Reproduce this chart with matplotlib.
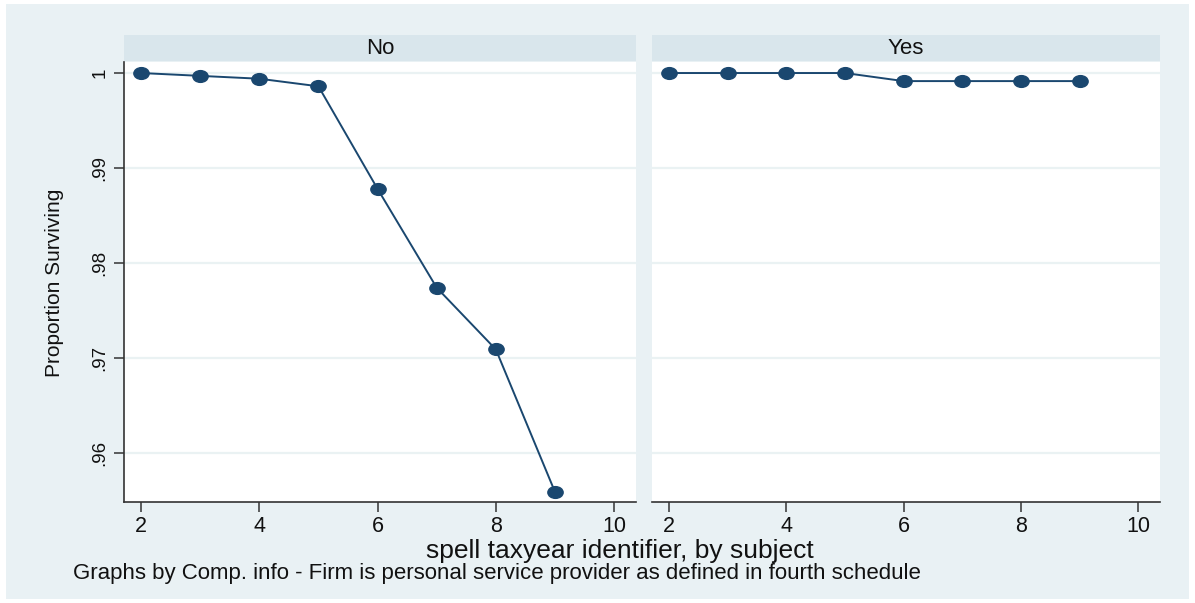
import matplotlib
matplotlib.use("Agg")
import matplotlib.pyplot as plt
from matplotlib.path import Path
from matplotlib.transforms import Affine2D
from matplotlib.patches import Rectangle
import numpy as np

plt.rcParams['font.family'] = ['Liberation Sans', 'DejaVu Sans']

panels = ["No", "Yes"]
x_no = [2, 3, 4, 5, 6, 7, 8, 9]
y_no = [1.0, 0.9997, 0.9994, 0.9986, 0.9878, 0.9774, 0.9709, 0.9559]
x_yes = [2, 3, 4, 5, 6, 7, 8, 9]
y_yes = [1.0, 1.0, 1.0, 1.0, 0.99915, 0.99915, 0.99915, 0.99915]
xticks = [2, 4, 6, 8, 10]
yticks = [0.96, 0.97, 0.98, 0.99, 1.0]
ytick_labels = [".96", ".97", ".98", ".99", "1"]

W, H = 1195, 603
fig = plt.figure(figsize=(W/100, H/100), dpi=100)
fig.patch.set_facecolor('white')
bg = '#e9f1f4'
fig.patches.append(Rectangle((6/W, 4/H), (W-12)/W, (H-8)/H, transform=fig.transFigure,
                             facecolor=bg, edgecolor='none', zorder=-10))

navy = '#1a476f'
ell = Path.unit_circle().transformed(Affine2D().scale(1.3, 1.0))

def px(x0, y0, x1, y1):
    return [x0/W, 1 - y1/H, (x1-x0)/W, (y1-y0)/H]

boxes = [(124, 62, 636, 502), (652, 62, 1160, 502)]
data = [(x_no, y_no), (x_yes, y_yes)]
for i, (b, (xs, ys), name) in enumerate(zip(boxes, data, panels)):
    ax = fig.add_axes(px(*b))
    ax.set_facecolor('white')
    ax.set_xlim(1.712, 10.37)
    ax.set_ylim(0.95484, 1.00116)
    for yt in yticks:
        ax.axhline(yt, color='#eaf2f3', lw=1.6, zorder=0)
    ax.plot(xs, ys, color=navy, lw=1.4, marker=ell, markersize=11,
            markerfacecolor=navy, markeredgecolor=navy, zorder=3, clip_on=False)
    for s in ['top', 'right']:
        ax.spines[s].set_visible(False)
    ax.spines['bottom'].set_color('#333333')
    ax.spines['left'].set_color('#333333')
    ax.spines['bottom'].set_linewidth(1.2)
    ax.spines['left'].set_linewidth(1.2)
    ax.set_xticks(xticks)
    ax.set_xticklabels([str(t) for t in xticks])
    ax.tick_params(axis='x', direction='out', length=7, width=1.1, color='#333333',
                   labelsize=15.5, pad=3, labelcolor='#111111')
    ax.set_yticks(yticks)
    if i == 0:
        ax.set_yticklabels(ytick_labels, rotation=90, va='center')
        ax.tick_params(axis='y', direction='out', length=7, width=1.1, color='#333333',
                       labelsize=13.5, pad=4, labelcolor='#111111')
    else:
        ax.spines['left'].set_visible(False)
        ax.tick_params(axis='y', left=False, labelleft=False)
    # header strip
    hx0, hy0, hx1, hy1 = b[0], 35, b[2], 61
    fig.patches.append(Rectangle((hx0/W, 1-hy1/H), (hx1-hx0)/W, (hy1-hy0)/H,
                                 transform=fig.transFigure, facecolor='#d9e6ec',
                                 edgecolor='none', zorder=-5))
    fig.text((hx0+hx1)/2/W, 1-(hy0+hy1)/2/H, name, ha='center', va='center',
             fontsize=16, color='#111111')

fig.text(55/W, 1-283/H, "Proportion Surviving", rotation=90, ha='center', va='center',
         fontsize=15, color='#111111')
fig.text(620/W, 1-551/H, "spell taxyear identifier, by subject", ha='center', va='center',
         fontsize=19, color='#111111')
fig.text(73/W, 1-573/H, "Graphs by Comp. info - Firm is personal service provider as defined in fourth schedule",
         ha='left', va='center', fontsize=16, color='#111111')

fig.savefig('out.png', dpi=100, facecolor=fig.get_facecolor())
